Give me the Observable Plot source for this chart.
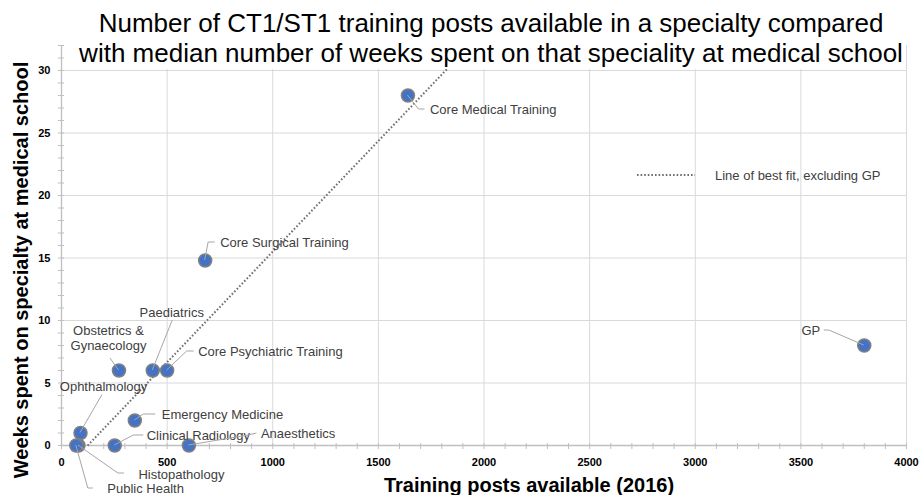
<!DOCTYPE html>
<html>
<head>
<meta charset="utf-8">
<script src="https://cdn.jsdelivr.net/npm/d3@7"></script>
<script src="https://cdn.jsdelivr.net/npm/@observablehq/plot@0.6"></script>
<style>
  html, body { margin: 0; padding: 0; background: #fff; }
  #chart { width: 922px; height: 495px; overflow: hidden; }
  svg { font-family: "Liberation Sans", Arial, sans-serif; }
</style>
</head>
<body>
<div id="chart"></div>
<script>
// ---- Data ----
const names = ["Core Medical Training", "GP", "Core Surgical Training", "Paediatrics",
  "Core Psychiatric Training", "Obstetrics &\nGynaecology", "Ophthalmology",
  "Emergency Medicine", "Clinical Radiology", "Anaesthetics", "Histopathology", "Public Health"];
const posts = [1640, 3800, 680, 432, 500, 272, 90, 347, 252, 603, 80, 70];
const weeks = [28, 8, 14.8, 6, 6, 6, 1, 2, 0, 0, 0, 0];
const excluded = "GP";
const xMajorTicks = [0, 500, 1000, 1500, 2000, 2500, 3000, 3500, 4000];
const yMajorTicks = [0, 5, 10, 15, 20, 25, 30];
const titleLines = ["Number of CT1/ST1 training posts available in a specialty compared",
  "with median number of weeks spent on that speciality at medical school"];
const xLabel = "Training posts available (2016)";
const yLabel = "Weeks spent on specialty at medical school";
const legendLabel = "Line of best fit, excluding GP";

// ---- Label layout (pixel offsets from each point) ----
const labelLayout = [
  {anchor: "start",  dx: 22,  dy: 14,  leader: [[0,0],[11,14],[17,14]]},
  {anchor: "end",    dx: -44, dy: -15, leader: [[0,0],[-35,-15],[-40,-15]]},
  {anchor: "start",  dx: 15,  dy: -18, leader: [[0,0],[3.5,-18],[10,-18]]},
  {anchor: "middle", dx: 19,  dy: -58, leader: [[0,0],[20,-50]]},
  {anchor: "start",  dx: 31,  dy: -19, leader: [[0,0],[20,-19],[27,-19]]},
  {anchor: "middle", dx: -10.5, dy: -32.5, leader: [[0,0],[-8.5,-12]]},
  {anchor: "middle", dx: 23,  dy: -46.5, leader: [[0,0],[22,-38]]},
  {anchor: "start",  dx: 27,  dy: -6,  leader: [[0,0],[9,-6],[21,-6]]},
  {anchor: "start",  dx: 32,  dy: -10, leader: [[0,0],[19,-10],[29,-10]]},
  {anchor: "start",  dx: 72,  dy: -12, leader: [[0,0],[60,-10],[68,-12]]},
  {anchor: "start",  dx: 60,  dy: 29,  leader: [[0,0],[40,28],[46,28]]},
  {anchor: "start",  dx: 31,  dy: 43,  leader: [[0,0],[12,43],[17,43]]}
];

const rows = names.map((n, i) => ({name: n, posts: posts[i], weeks: weeks[i]}));

// least-squares fit excluding GP
const fitRows = rows.filter(r => r.name !== excluded);
const mx = d3.mean(fitRows, r => r.posts), my = d3.mean(fitRows, r => r.weeks);
const slope = d3.sum(fitRows, r => (r.posts - mx) * (r.weeks - my)) / d3.sum(fitRows, r => (r.posts - mx) ** 2);
const intercept = my - slope * mx;
const yTop = 32;
const fitPts = [0, yTop].map(yv => ({posts: (yv - intercept) / slope, weeks: yv}));

const labelColor = "#404040";
const gridColor = "#d9d9d9";
const axisColor = "#bfbfbf";
const dotFill = "#4472C4";
const fitColor = "#6f6f6f";
const fitDash = "1.6,2";

const textMarks = rows.map((r, i) => Plot.text([r], {
  x: "posts", y: "weeks", text: "name",
  dx: labelLayout[i].dx, dy: labelLayout[i].dy,
  textAnchor: labelLayout[i].anchor, lineAnchor: "middle", lineHeight: 1.15,
  fontSize: 13, fill: labelColor
}));

const noText = () => "";

const plot = Plot.plot({
  width: 922, height: 495,
  marginLeft: 61, marginRight: 16, marginTop: 45, marginBottom: 50,
  style: {background: "transparent", fontFamily: "'Liberation Sans', Arial, sans-serif", overflow: "visible"},
  x: {domain: [0, 4000], label: null},
  y: {domain: [0, yTop], label: null},
  marks: [
    Plot.gridX(xMajorTicks.filter(d => d > 0), {stroke: gridColor, strokeOpacity: 1}),
    Plot.gridY(yMajorTicks.filter(d => d > 0), {stroke: gridColor, strokeOpacity: 1}),
    Plot.ruleX([0], {stroke: axisColor, strokeWidth: 1.3}),
    Plot.ruleY([0], {stroke: axisColor, strokeWidth: 1.3}),
    Plot.axisX({ticks: d3.range(0, 4001, 100), tickSize: 4, tickFormat: noText, label: null, stroke: axisColor, strokeOpacity: 1}),
    Plot.axisX({ticks: d3.range(0, 4001, 100), tickSize: -2, tickFormat: noText, label: null, stroke: axisColor, strokeOpacity: 1}),
    Plot.axisY({ticks: d3.range(0, 33, 1), tickSize: 3, tickFormat: noText, label: null, stroke: axisColor, strokeOpacity: 1}),
    Plot.axisY({ticks: d3.range(0, 33, 1), tickSize: -3, tickFormat: noText, label: null, stroke: axisColor, strokeOpacity: 1}),
    Plot.axisX({ticks: xMajorTicks, tickSize: 0, tickPadding: 13, label: null, fontSize: 11, fontWeight: "bold", fill: "#000", tickFormat: d => String(d)}),
    Plot.axisY({ticks: yMajorTicks, tickSize: 0, tickPadding: 11, label: null, fontSize: 11, fontWeight: "bold", fill: "#000", tickFormat: d => String(d)}),
    Plot.line(fitPts, {x: "posts", y: "weeks", stroke: fitColor, strokeWidth: 2, strokeDasharray: fitDash, strokeLinecap: "butt"}),
    Plot.dot(rows, {x: "posts", y: "weeks", r: 6.5, fill: dotFill, stroke: "#808080", strokeWidth: 1.5}),
    ...textMarks
  ]
});

const svg = d3.select(plot);
// bold tick labels
svg.selectAll('g[aria-label$="tick label"]')
  .attr("font-size", 11).attr("font-weight", "bold").attr("fill", "#000")
  .selectAll("text").attr("font-size", 11).attr("font-weight", "bold");

const sx = plot.scale("x"), sy = plot.scale("y");
// leader lines
const leaderG = svg.append("g").attr("fill", "none").attr("stroke", "#a6a6a6").attr("stroke-width", 1);
rows.forEach((r, i) => {
  const px = sx.apply(r.posts), py = sy.apply(r.weeks);
  leaderG.append("path").attr("d", d3.line()(labelLayout[i].leader.map(([a, b]) => [px + a, py + b])));
});

// legend
const lg = svg.append("g");
lg.append("line").attr("x1", 637).attr("x2", 695).attr("y1", 175).attr("y2", 175)
  .attr("stroke", fitColor).attr("stroke-width", 2).attr("stroke-dasharray", fitDash).attr("stroke-linecap", "butt");
lg.append("text").attr("x", 715).attr("y", 175).attr("dy", "0.35em").attr("text-anchor", "start")
  .attr("font-size", 13).attr("fill", labelColor).text(legendLabel);

// title with white background
const tg = svg.append("g");
tg.append("rect").attr("x", 66).attr("y", 0).attr("width", 838).attr("height", 69).attr("fill", "#fff");
titleLines.forEach((t, i) => {
  tg.append("text").attr("x", 491).attr("y", 32 + i * 29.5).attr("text-anchor", "middle")
    .attr("font-size", 26).attr("fill", "#000").text(t);
});

// axis titles
svg.append("text").attr("x", 529).attr("y", 492).attr("text-anchor", "middle")
  .attr("font-size", 20).attr("font-weight", "bold").attr("fill", "#000").text(xLabel);
svg.append("text").attr("transform", "translate(28,270) rotate(-90)").attr("text-anchor", "middle")
  .attr("font-size", 20).attr("font-weight", "bold").attr("fill", "#000").text(yLabel);

document.getElementById("chart").appendChild(plot);
</script>
</body>
</html>
